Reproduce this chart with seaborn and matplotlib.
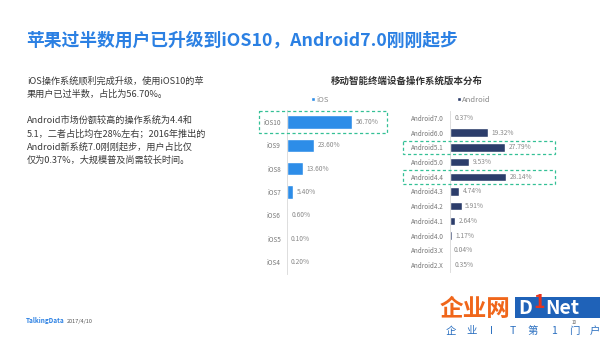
import matplotlib
matplotlib.use('Agg')
import matplotlib.pyplot as plt
import matplotlib.transforms as mtransforms
from matplotlib.patches import Rectangle, Patch
import pandas as pd
import seaborn as sns

# data
ios_versions = ['iOS10', 'iOS9', 'iOS8', 'iOS7', 'iOS6', 'iOS5', 'iOS4']
ios_share = [56.70, 23.60, 13.60, 5.40, 0.60, 0.10, 0.20]

android_versions = ['Android7.0', 'Android6.0', 'Android5.1', 'Android5.0', 'Android4.4',
                    'Android4.3', 'Android4.2', 'Android4.1', 'Android4.0', 'Android3.X',
                    'Android2.X']
android_share = [0.37, 19.32, 27.79, 9.53, 28.14, 4.74, 5.91, 2.64, 1.17, 0.04, 0.35]

ios_highlight = ['iOS10']
android_highlight = ['Android5.1', 'Android4.4']

title = '苹果过半数用户已升级到iOS10，Android7.0刚刚起步'
chart_title = '移动智能终端设备操作系统版本分布'
body_lines = [
    'iOS操作系统顺利完成升级，使用iOS10的苹',
    '果用户已过半数，占比为56.70%。',
    '',
    'Android市场份额较高的操作系统为4.4和',
    '5.1，二者占比均在28%左右；2016年推出的',
    'Android新系统7.0刚刚起步，用户占比仅',
    '仅为0.37%，大规模普及尚需较长时间。',
]

IOS_COLOR = '#2d8de8'
ANDROID_COLOR = '#2c3d6b'
BOX_COLOR = '#34c096'
LABEL_GRAY = '#8a8a8a'

sns.set_theme(style='white')
plt.rcParams['font.family'] = ['Noto Sans CJK SC', 'DejaVu Sans']

W, H = 600, 337
fig = plt.figure(figsize=(6, 3.37), dpi=100)
fig.patch.set_facecolor('white')


def px_axes(left, top, width, height):
    return fig.add_axes([left / W, (H - top - height) / H, width / W, height / H])


def fx(x):
    return x / W


def fy(y):
    return 1 - y / H


def draw_panel(ax, df, color, xmax, highlight, box_x0, box_x1, box_h):
    sns.barplot(data=df, x='share', y='version', color=color, width=0.57,
                saturation=1, ax=ax)
    ax.set_xlim(0, xmax)
    ax.set_ylim(len(df) - 0.5, -0.5)
    ax.set_xlabel('')
    ax.set_ylabel('')
    ax.set_xticks([])
    for s in ['top', 'right', 'bottom']:
        ax.spines[s].set_visible(False)
    ax.spines['left'].set_color('#d8d8d8')
    ax.spines['left'].set_linewidth(0.6)
    ax.tick_params(axis='y', length=0, pad=4.5, labelsize=4.6, labelcolor='#777777')
    ax.bar_label(ax.containers[0], labels=[f'{v:.2f}%' for v in df['share']],
                 padding=2.5, fontsize=4.8, color=LABEL_GRAY)
    trans = mtransforms.blended_transform_factory(fig.transFigure, ax.transData)
    cats = list(df['version'])
    for name in highlight:
        i = cats.index(name)
        ax.add_patch(Rectangle((fx(box_x0), i - box_h / 2), fx(box_x1 - box_x0), box_h,
                               transform=trans, fill=False, edgecolor=BOX_COLOR,
                               linestyle=(0, (2.5, 2)), linewidth=0.9, clip_on=False,
                               zorder=5))


ios_df = pd.DataFrame({'version': ios_versions, 'share': ios_share})
android_df = pd.DataFrame({'version': android_versions, 'share': android_share})

ax_ios = px_axes(287, 110.3, 114.6, 163.3)
draw_panel(ax_ios, ios_df, IOS_COLOR, 100, ios_highlight, 259, 387, 0.94)

ax_and = px_axes(450, 110.6, 99.5, 161.7)
draw_panel(ax_and, android_df, ANDROID_COLOR, 50, android_highlight, 403, 555, 0.92)

# legends
for label, color, cx in [('iOS', IOS_COLOR, 320), ('Android', ANDROID_COLOR, 474)]:
    fig.legend(handles=[Patch(facecolor=color, label=label)], loc='center',
               bbox_to_anchor=(fx(cx), fy(100)), frameon=False, fontsize=5.5,
               handlelength=0.5, handleheight=0.5, handletextpad=0.2,
               labelcolor='#8a8a8a', borderpad=0)

# titles and text
fig.text(fx(26), fy(40), title, fontsize=12.8, fontweight='bold', color='#2b80e3',
         va='center', ha='left')
fig.text(fx(407), fy(81), chart_title, fontsize=6.8, fontweight='bold', color='#333333',
         va='center', ha='center')
for i, line in enumerate(body_lines):
    if line:
        fig.text(fx(27), fy(81 + i * 13.2), line, fontsize=6.6, color='#3a3a3a',
                 va='center', ha='left')

# footer
fig.text(fx(26), fy(321), 'TalkingData', fontsize=4.6, fontweight='bold', color='#2b80e3',
         va='center', ha='left')
fig.text(fx(67), fy(321), '2017/4/10', fontsize=4, color='#555555', va='center', ha='left')

# logo
fig.text(fx(440), fy(309), '企业网', fontsize=17, fontweight='bold', color='#f0661a',
         va='center', ha='left')
fig.patches.append(Rectangle((fx(515), fy(318)), fx(85), 21 / H, transform=fig.transFigure,
                             facecolor='#1f62b8', edgecolor='none'))
fig.text(fx(518), fy(308), 'D', fontsize=14, fontweight='bold', color='white',
         va='center', ha='left')
fig.text(fx(533), fy(303), '1', fontsize=14, fontweight='bold', color='#e8321c',
         va='center', ha='left')
fig.text(fx(545), fy(308), 'Net', fontsize=14, fontweight='bold', color='white',
         va='center', ha='left')
fig.text(fx(572), fy(322), '10', fontsize=3.2, color='#555555', va='center', ha='left')
slogan = ['企', '业', 'I', 'T', '第', '1', '门', '户']
for k, ch in enumerate(slogan):
    fig.text(fx(451 + k * 20.5), fy(331), ch, fontsize=7.5, color='#2a6fc0',
             va='center', ha='center')

fig.savefig('out.png', dpi=100)
